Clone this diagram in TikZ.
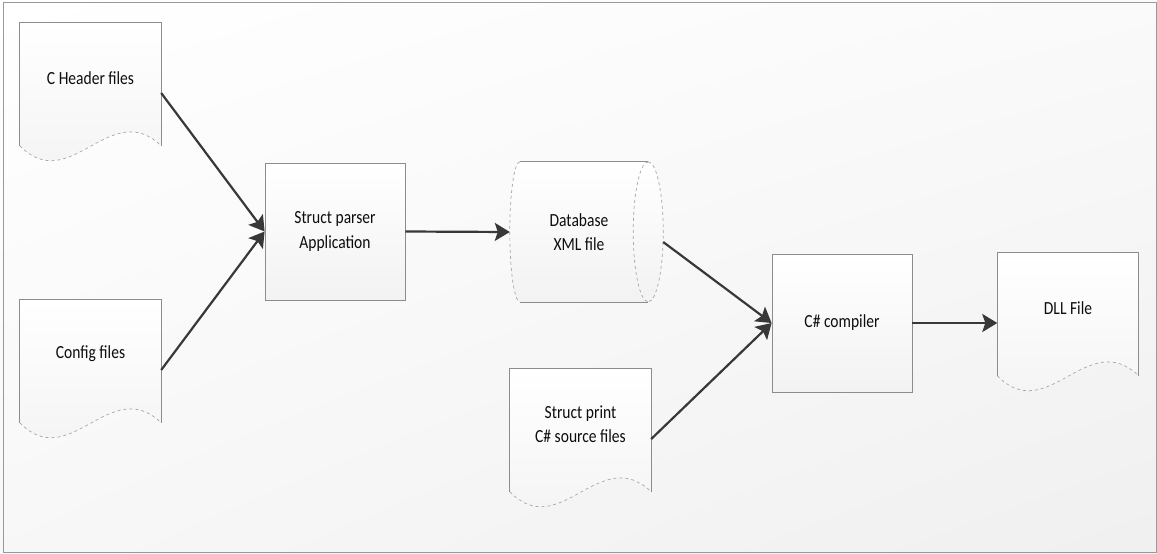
\documentclass[tikz,border=0pt]{standalone}
\usepackage{fontspec}
\setmainfont{Carlito}[FakeStretch=0.84]
\usetikzlibrary{arrows.meta,calc,shadings}

\begin{document}
\begin{tikzpicture}[x=1pt,y=-1pt,
  txt/.style = {font=\fontsize{18.5pt}{24.5pt}\selectfont, align=center, text=black!95},
  proc/.style = {draw=black!45, line width=0.8pt, top color=white, bottom color=black!5,
                 minimum width=140pt, minimum height=137pt, txt},
  doc/.style = {minimum width=141pt, minimum height=140pt, inner sep=0pt},
  edge/.style = {draw=black!45, line width=0.8pt},
  wave/.style = {draw=black!35, line width=0.7pt, dashed},
  flow/.style = {draw=black!78, line width=2.2pt, -{Stealth[length=15pt,width=18pt,inset=3pt]}}]

% background and frame
\shade[upper left=white, upper right=black!2, lower left=black!3, lower right=black!6]
  (0,0) rectangle (1157,554);
\draw[black!40, line width=1pt] (3,2) rectangle (1156,552);

% nodes
\node[doc] (hdr) at (90.5,93) {};
\node[doc] (cfg) at (90.5,370) {};
\node[proc] (parser) at (335,231.5) {Struct parser\\Application};
\node[minimum width=138pt, minimum height=140pt] (db) at (579,232) {};
\node[doc] (prt) at (580.5,439) {};
\node[proc, minimum height=138pt] (cc) at (842,323) {C\# compiler};
\node[doc] (dll) at (1068,323) {};

% document outlines
\foreach \n in {hdr,cfg,prt,dll} {
  \shade[top color=white, bottom color=black!5]
    (\n.north west) -- (\n.north east) -- ([yshift=-123pt]\n.north east)
    .. controls +(-51,-49) and +(50,51) .. ([yshift=-123pt]\n.north west) -- cycle;
  \draw[edge] ([yshift=-123pt]\n.north west) -- (\n.north west) -- (\n.north east)
    -- ([yshift=-123pt]\n.north east);
  \draw[wave] ([yshift=-123pt]\n.north west) .. controls +(50,51) and +(-51,-49)
    .. ([yshift=-123pt]\n.north east);
}
\node[txt] (hdrtext) at ([yshift=15pt]hdr.center) {C Header files};
\node[txt] (cfgtext) at ([yshift=16pt]cfg.center) {Config files};
\node[txt] (prttext) at ([yshift=15pt]prt.center) {Struct print\\C\# source files};
\node[txt] (dlltext) at ([yshift=15pt]dll.center) {DLL File};

% database cylinder
\shade[top color=white, bottom color=black!5]
  ([xshift=10pt]db.north west) -- (db.north east)
  arc[start angle=90, end angle=-90, x radius=15pt, y radius=70pt]
  -- ([xshift=10pt]db.south west)
  arc[start angle=270, end angle=90, x radius=10pt, y radius=70pt] -- cycle;
\draw[edge] ([xshift=10pt]db.north west) -- (db.north east);
\draw[edge] ([xshift=10pt]db.south west) -- (db.south east);
\draw[wave] ([xshift=10pt]db.north west) arc[start angle=90, end angle=270, x radius=10pt, y radius=70pt];
\draw[wave] (db.north east) arc[start angle=90, end angle=-90, x radius=15pt, y radius=70pt];
\draw[wave] (db.north east) arc[start angle=90, end angle=270, x radius=15pt, y radius=70pt];
\node[txt] (dbtext) at (db.center) {Database\\XML file};

% connectors
\draw[flow] (hdr.east) -- (parser.west);
\draw[flow] (cfg.east) -- (parser.west);
\draw[flow] (parser.east) -- (db.west);
\draw[flow] ([xshift=15pt,yshift=-10pt]db.east) -- (cc.west);
\draw[flow] (prt.east) -- (cc.west);
\draw[flow] (cc.east) -- (dll.west);
\end{tikzpicture}
\end{document}
